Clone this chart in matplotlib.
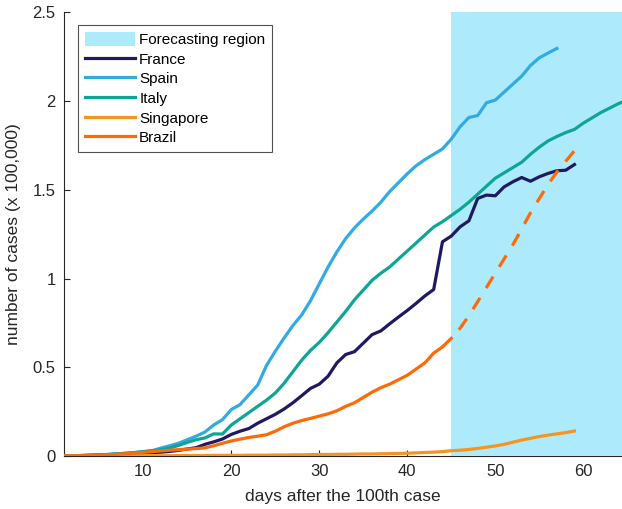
import matplotlib.pyplot as plt
from matplotlib.patches import Patch
from matplotlib.lines import Line2D

plt.rcParams['font.family'] = ['Liberation Sans', 'DejaVu Sans']

# data (x 100,000 cases), index = days after the 100th case, starting at day 1
france = [0.001, 0.002, 0.003, 0.004, 0.006, 0.008, 0.010, 0.012, 0.014, 0.016,
          0.019, 0.022, 0.026, 0.032, 0.040, 0.047, 0.066, 0.080, 0.096, 0.122,
          0.140, 0.155, 0.185, 0.210, 0.235, 0.265, 0.300, 0.340, 0.381, 0.405,
          0.450, 0.525, 0.572, 0.588, 0.636, 0.684, 0.705, 0.745, 0.783, 0.820,
          0.860, 0.902, 0.938, 1.207, 1.239, 1.291, 1.325, 1.451, 1.470, 1.466,
          1.516, 1.545, 1.569, 1.548, 1.573, 1.592, 1.607, 1.610, 1.642]
spain = [0.001, 0.002, 0.003, 0.005, 0.007, 0.009, 0.012, 0.015, 0.019, 0.024,
         0.030, 0.045, 0.058, 0.072, 0.092, 0.112, 0.135, 0.175, 0.205, 0.262,
         0.290, 0.345, 0.400, 0.510, 0.590, 0.665, 0.735, 0.795, 0.875, 0.970,
         1.065, 1.150, 1.225, 1.285, 1.335, 1.380, 1.430, 1.490, 1.540, 1.590,
         1.635, 1.670, 1.700, 1.730, 1.785, 1.855, 1.907, 1.918, 1.990, 2.005,
         2.050, 2.095, 2.140, 2.200, 2.243, 2.270, 2.296]
italy = [0.001, 0.002, 0.003, 0.005, 0.007, 0.009, 0.012, 0.016, 0.020, 0.025,
         0.030, 0.036, 0.045, 0.060, 0.077, 0.092, 0.102, 0.125, 0.124, 0.175,
         0.210, 0.245, 0.280, 0.315, 0.355, 0.410, 0.475, 0.540, 0.595, 0.640,
         0.695, 0.755, 0.815, 0.880, 0.935, 0.990, 1.030, 1.065, 1.110, 1.155,
         1.200, 1.245, 1.290, 1.320, 1.355, 1.390, 1.430, 1.475, 1.520, 1.565,
         1.595, 1.625, 1.655, 1.700, 1.740, 1.775, 1.800, 1.822, 1.840, 1.875,
         1.905, 1.935, 1.960, 1.985, 2.005]
singapore = [0.000, 0.000, 0.001, 0.001, 0.001, 0.001, 0.001, 0.001, 0.002, 0.002,
             0.002, 0.002, 0.002, 0.003, 0.003, 0.003, 0.003, 0.004, 0.004, 0.004,
             0.004, 0.005, 0.005, 0.005, 0.006, 0.006, 0.007, 0.007, 0.008, 0.009,
             0.009, 0.010, 0.010, 0.011, 0.012, 0.012, 0.013, 0.014, 0.015, 0.016,
             0.018, 0.020, 0.022, 0.025, 0.030, 0.033, 0.037, 0.043, 0.050, 0.057,
             0.066, 0.078, 0.090, 0.100, 0.110, 0.118, 0.125, 0.132, 0.141]
brazil = [0.000, 0.001, 0.002, 0.003, 0.005, 0.007, 0.010, 0.013, 0.017, 0.021,
          0.025, 0.029, 0.033, 0.036, 0.039, 0.042, 0.046, 0.058, 0.072, 0.085,
          0.095, 0.105, 0.112, 0.120, 0.140, 0.165, 0.185, 0.200, 0.212, 0.225,
          0.238, 0.255, 0.280, 0.300, 0.330, 0.360, 0.385, 0.405, 0.430, 0.455,
          0.490, 0.525, 0.580, 0.615, 0.663]
brazil_forecast = [0.663, 0.720, 0.790, 0.870, 0.950, 1.030, 1.110, 1.190, 1.280,
                   1.370, 1.450, 1.530, 1.600, 1.660, 1.720]
forecast_start = 45
forecast_days = list(range(forecast_start, forecast_start + len(brazil_forecast)))

def days(series):
    return list(range(1, len(series) + 1))

colors = {'France': '#1f1a5f', 'Spain': '#31abe0', 'Italy': '#0fa594',
          'Singapore': '#f7931e', 'Brazil': '#ff6a06'}
shade = '#adebfc'
dark = '#262626'

fig = plt.figure(figsize=(6.22, 5.09), dpi=100)
ax = fig.add_axes([0.103, 0.104, 0.897, 0.872])

ax.axvspan(forecast_start, 70, color=shade, lw=0, zorder=2.6)

lw = 2.3
ax.plot(days(france), france, color=colors['France'], lw=lw, zorder=3)
ax.plot(days(spain), spain, color=colors['Spain'], lw=lw, zorder=3)
ax.plot(days(italy), italy, color=colors['Italy'], lw=lw, zorder=3)
ax.plot(days(singapore), singapore, color=colors['Singapore'], lw=lw, zorder=3)
ax.plot(days(brazil), brazil, color=colors['Brazil'], lw=lw, zorder=3)
# forecast starts with a gap, ends with a full dash
ax.plot(forecast_days, brazil_forecast, color=colors['Brazil'], lw=lw,
        ls=(4.2, (4.2, 3.6)), zorder=3)

ax.set_xlim(1, 64.4)
ax.set_ylim(0, 2.5)
ax.set_xticks([10, 20, 30, 40, 50, 60])
ax.set_yticks([0, 0.5, 1, 1.5, 2, 2.5])
ax.set_yticklabels(['0', '0.5', '1', '1.5', '2', '2.5'])

for s in ['top', 'right']:
    ax.spines[s].set_visible(False)
for s in ['left', 'bottom']:
    ax.spines[s].set_color(dark)
    ax.spines[s].set_linewidth(0.8)
ax.tick_params(direction='in', length=4, width=0.8, colors=dark,
               labelsize=12, pad=6)

ax.set_xlabel('days after the 100th case', fontsize=12.5, color=dark, labelpad=7)
ax.set_ylabel('number of cases (x 100,000)', fontsize=12.5, color=dark, labelpad=8)

handles = [Patch(facecolor=shade, edgecolor='none', label='Forecasting region')]
for name in ['France', 'Spain', 'Italy', 'Singapore', 'Brazil']:
    handles.append(Line2D([], [], color=colors[name], lw=lw, label=name))
leg = ax.legend(handles=handles, loc='upper left', bbox_to_anchor=(0.025, 0.971),
                fontsize=11, frameon=True, fancybox=False, handlelength=3.3,
                handleheight=1.0, handletextpad=0.25, labelspacing=0.3,
                borderpad=0.45, borderaxespad=0)
leg.get_frame().set_edgecolor(dark)
leg.get_frame().set_linewidth(0.8)
leg.set_zorder(5)

fig.savefig('out.png', dpi=100)
